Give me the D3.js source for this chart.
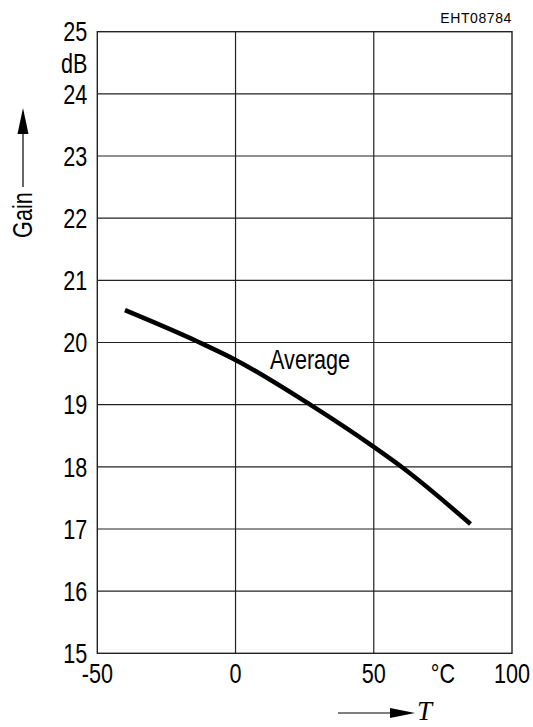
<!DOCTYPE html>
<html>
<head>
<meta charset="utf-8">
<script src="https://cdn.jsdelivr.net/npm/d3@7"></script>
<style>
  html, body { margin: 0; padding: 0; background: #fff; }
  svg { display: block; }
</style>
</head>
<body>
<div id="chart"></div>
<script>
// valeurs
const temps = [-40, -13, 0, 27, 50, 60, 85];
const gains = [20.52, 20.0, 19.72, 19.0, 18.32, 18.0, 17.08];
const xTicks = [-50, 0, 50, 100];
const yTicks = [15, 16, 17, 18, 19, 20, 21, 22, 23, 24, 25];
const xGrid = [0, 50];
const curveLabel = "Average";
const figureCode = "EHT08784";

const width = 533;
const height = 727;
const margin = { top: 31.7, right: 21, bottom: 73.7, left: 97.3 };
const font = "'Liberation Sans', Arial, sans-serif";
const narrow = 0.8; // police étroite simulée

const x = d3.scaleLinear().domain([-50, 100]).range([margin.left, width - margin.right]);
const y = d3.scaleLinear().domain([15, 25]).range([height - margin.bottom, margin.top]);

const svg = d3.select("#chart")
  .append("svg")
  .attr("width", width)
  .attr("height", height)
  .attr("viewBox", `0 0 ${width} ${height}`);

// texte étroit : translate puis compression horizontale
function narrowText(g, px, py, rot = 0) {
  return g.append("text")
    .attr("transform", `translate(${px},${py}) rotate(${rot}) scale(${narrow},1)`)
    .style("font-family", font)
    .style("font-size", "27px");
}

// grille
svg.append("g")
  .selectAll("line")
  .data(yTicks.slice(1, -1))
  .enter()
  .append("line")
  .attr("x1", x(-50)).attr("x2", x(100))
  .attr("y1", d => y(d)).attr("y2", d => y(d))
  .attr("stroke", "#222").attr("stroke-width", 1.2);

svg.append("g")
  .selectAll("line")
  .data(xGrid)
  .enter()
  .append("line")
  .attr("x1", d => x(d)).attr("x2", d => x(d))
  .attr("y1", y(15)).attr("y2", y(25))
  .attr("stroke", "#222").attr("stroke-width", 1.2);

// cadre
svg.append("rect")
  .attr("x", x(-50)).attr("y", y(25))
  .attr("width", x(100) - x(-50))
  .attr("height", y(15) - y(25))
  .attr("fill", "none")
  .attr("stroke", "#222").attr("stroke-width", 1.4);

// courbe
const line = d3.line()
  .curve(d3.curveMonotoneX)
  .x((d, i) => x(temps[i]))
  .y(d => y(d));

svg.append("path")
  .datum(gains)
  .attr("d", line)
  .attr("fill", "none")
  .attr("stroke", "#000")
  .attr("stroke-width", 4.5);

narrowText(svg, x(12.5), y(19.58)).text(curveLabel);

// axe Y
svg.append("g")
  .selectAll("text")
  .data(yTicks)
  .enter()
  .append("text")
  .attr("transform", d => `translate(${margin.left - 10},${y(d)}) scale(${narrow},1)`)
  .attr("dy", "0.36em")
  .attr("text-anchor", "end")
  .style("font-family", font)
  .style("font-size", "27px")
  .text(d => d);

narrowText(svg, margin.left - 10, y(24.5))
  .attr("dy", "0.36em")
  .attr("text-anchor", "end")
  .text("dB");

narrowText(svg, 32, y(22.05), -90)
  .attr("text-anchor", "middle")
  .text("Gain");

// flèche de l'axe Y
const headBase = y(23.37);
svg.append("line")
  .attr("x1", 23).attr("x2", 23)
  .attr("y1", y(22.5)).attr("y2", headBase)
  .attr("stroke", "#000").attr("stroke-width", 1.2);
svg.append("path")
  .attr("d", `M23,${headBase - 25} L17.5,${headBase + 1} L28.5,${headBase + 1} Z`)
  .attr("fill", "#000");

// axe X
svg.append("g")
  .selectAll("text")
  .data(xTicks)
  .enter()
  .append("text")
  .attr("transform", d => `translate(${x(d)},${height - margin.bottom + 30}) scale(${narrow},1)`)
  .attr("text-anchor", "middle")
  .style("font-family", font)
  .style("font-size", "27px")
  .text(d => d);

narrowText(svg, x(75), height - margin.bottom + 30)
  .attr("text-anchor", "middle")
  .text("°C");

const arrowY = 713;
svg.append("line")
  .attr("x1", 338).attr("x2", 392)
  .attr("y1", arrowY).attr("y2", arrowY)
  .attr("stroke", "#000").attr("stroke-width", 1.2);
svg.append("path")
  .attr("d", `M415,${arrowY} L390,${arrowY - 5} L390,${arrowY + 5} Z`)
  .attr("fill", "#000");

svg.append("text")
  .attr("x", 417)
  .attr("y", 720)
  .style("font-family", "'Liberation Serif', 'Times New Roman', serif")
  .style("font-style", "italic")
  .style("font-size", "27px")
  .text("T");

// code de figure
svg.append("text")
  .attr("x", x(100))
  .attr("y", 23)
  .attr("text-anchor", "end")
  .style("font-family", font)
  .style("font-size", "14px")
  .style("letter-spacing", "0.6px")
  .text(figureCode);
</script>
</body>
</html>
